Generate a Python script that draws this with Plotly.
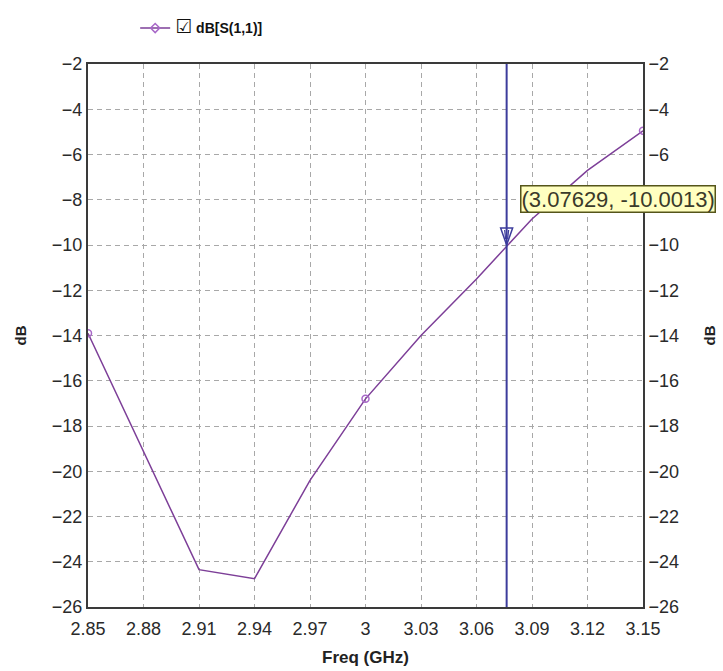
import plotly.graph_objects as go

# S11 sweep (GHz, dB)
freq_ghz = [2.85, 2.88, 2.91, 2.94, 2.97, 3.00, 3.03, 3.06, 3.09, 3.12, 3.15]
s11_db = [-13.9, -19.1, -24.35, -24.75, -20.4, -16.8, -14.0, -11.5, -8.85, -6.7, -4.95]
marker_every = 5

# marker readout
mk_freq = 3.07629
mk_db = -10.0013
mk_label = "(3.07629, -10.0013)"

x_ticks = [2.85, 2.88, 2.91, 2.94, 2.97, 3.00, 3.03, 3.06, 3.09, 3.12, 3.15]
x_tick_text = ["2.85", "2.88", "2.91", "2.94", "2.97", "3", "3.03", "3.06", "3.09", "3.12", "3.15"]
y_ticks = list(range(-26, -1, 2))

LINE = "#7d3f98"
MARK = "#a868c8"
CURSOR = "#3c3c9c"
FONT = "Liberation Sans, Arial, DejaVu Sans, sans-serif"

fig = go.Figure()

fig.add_trace(go.Scatter(
    x=freq_ghz, y=s11_db, mode="lines",
    line=dict(color=LINE, width=1.5),
    showlegend=False, hoverinfo="x+y",
))
fig.add_trace(go.Scatter(
    x=freq_ghz[::marker_every], y=s11_db[::marker_every], mode="markers",
    marker=dict(symbol="circle-open", size=7, color=MARK, line=dict(width=1.5, color=MARK)),
    showlegend=False, hoverinfo="skip",
))
# legend entry
fig.add_trace(go.Scatter(
    x=[None], y=[None], mode="lines+markers",
    name="<span style='font-size:19px'>☑</span> <b>dB[S(1,1)]</b>",
    line=dict(color=LINE, width=1.5),
    marker=dict(symbol="diamond-open", size=7, color=MARK, line=dict(width=1.5, color=MARK)),
))
# keeps the right-hand axis alive
fig.add_trace(go.Scatter(x=[None], y=[None], yaxis="y2", showlegend=False, hoverinfo="skip"))

# cursor line
fig.add_shape(type="line", xref="x", yref="paper", x0=mk_freq, x1=mk_freq, y0=0, y1=1,
              line=dict(color=CURSOR, width=2))
# cursor triangle, tip on the trace
fig.add_shape(type="path", xref="x", yref="y", xsizemode="pixel", ysizemode="pixel",
              xanchor=mk_freq, yanchor=mk_db,
              path="M -6 17 L 6 17 L 0 0 Z",
              line=dict(color=CURSOR, width=1.5), fillcolor="rgba(0,0,0,0)")
fig.add_shape(type="path", xref="x", yref="y", xsizemode="pixel", ysizemode="pixel",
              xanchor=mk_freq, yanchor=mk_db,
              path="M -2 15 L -1 6 M 2 15 L 1 6",
              line=dict(color=CURSOR, width=1.2))

fig.add_annotation(
    x=mk_freq, y=-7.95, xref="x", yref="y", text=mk_label,
    showarrow=False, xanchor="left", yanchor="middle", xshift=13,
    font=dict(family=FONT, size=22, color="#3a3a2a"),
    bgcolor="#ffffc0", bordercolor="#55551a", borderwidth=1.5, borderpad=0,
)

axis_common = dict(
    showline=True, linecolor="#3a3a3a", linewidth=2,
    showgrid=True, gridcolor="#a8a8a8", gridwidth=1, griddash="5px,4px",
    zeroline=False, ticks="", tickfont=dict(family=FONT, size=18, color="#2a2a2a"),
    automargin=False,
)

fig.update_layout(
    width=723, height=671,
    margin=dict(l=88, r=80, t=58, b=64),
    paper_bgcolor="white", plot_bgcolor="white",
    font=dict(family=FONT, color="#222"),
    xaxis=dict(
        range=[2.85, 3.15], tickvals=x_ticks, ticktext=x_tick_text, mirror=True,
        ticklabelstandoff=4,
        title=dict(text="<b>Freq (GHz)</b>", font=dict(family=FONT, size=17, color="#222"), standoff=14),
        **axis_common,
    ),
    yaxis=dict(
        range=[-26, -2], tickvals=y_ticks,
        title=dict(text="<b>dB</b>", font=dict(family=FONT, size=15, color="#222"), standoff=22),
        **axis_common,
    ),
    yaxis2=dict(
        range=[-26, -2], tickvals=y_ticks, overlaying="y", side="right",
        title=dict(text="<b>dB</b>", font=dict(family=FONT, size=15, color="#222"), standoff=26),
        showline=True, linecolor="#3a3a3a", linewidth=2, showgrid=False, zeroline=False,
        ticks="", tickfont=dict(family=FONT, size=18, color="#2a2a2a"), automargin=False,
    ),
    legend=dict(
        x=0.085, y=1.095, xanchor="left", yanchor="top", orientation="h",
        font=dict(family=FONT, size=14, color="#111"), bgcolor="rgba(0,0,0,0)",
        itemwidth=30, tracegroupgap=0,
    ),
    showlegend=True,
)

fig.write_html("out.html")
